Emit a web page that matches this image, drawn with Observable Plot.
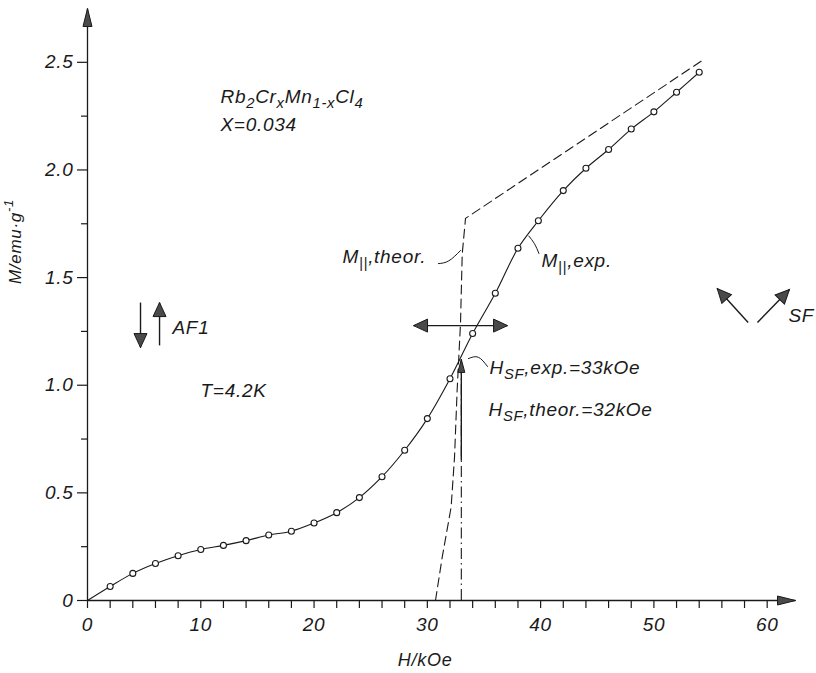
<!DOCTYPE html>
<html>
<head>
<meta charset="utf-8">
<script src="https://cdn.jsdelivr.net/npm/d3@7"></script>
<script src="https://cdn.jsdelivr.net/npm/@observablehq/plot@0.6"></script>
<style>
  body { margin: 0; background: #fff; }
  #chart svg { display: block; }
</style>
</head>
<body>
<div id="chart"></div>
<script>
// Measured magnetization M (emu/g) versus applied field H (kOe), T = 4.2 K
const fieldH = [2, 4, 6, 8, 10, 12, 14, 16, 18, 20, 22, 24, 26, 28, 30, 32, 34, 36, 38, 39.8, 42, 44, 46, 48, 50, 52, 54];
const magM = [0.065, 0.126, 0.172, 0.208, 0.237, 0.256, 0.278, 0.304, 0.322, 0.36, 0.408, 0.478, 0.575, 0.698, 0.845, 1.03, 1.24, 1.427, 1.636, 1.764, 1.904, 2.008, 2.095, 2.19, 2.27, 2.361, 2.454];

// Theoretical parallel magnetization
const theorH = [30.72, 31.31, 32.1, 32.4, 32.63, 32.93, 33.08, 33.37, 54.26];
const theorM = [0, 0.2, 0.434, 0.666, 0.976, 1.29, 1.61, 1.775, 2.508];

// Spin-flop fields (kOe)
const hsfExp = 33;
const hsfExpM = 1.12;

// Axis ticks
const xTicks = d3.range(0, 61, 2);
const yMajor = [0, 0.5, 1.0, 1.5, 2.0, 2.5];
const yMinor = [0.25, 0.75, 1.25, 1.75, 2.25];
const xDomain = [0, 62.5];
const yDomain = [0, 2.75];

// Annotation texts (x, y in data units; "_" subscript, "^" superscript)
const labels = [
  {text: "Rb_2Cr_xMn_{1-x}Cl_4", x: 11.74, y: 2.341},
  {text: "X=0.034", x: 11.74, y: 2.211},
  {text: "T=4.2K", x: 9.98, y: 0.975},
  {text: "AF1", x: 7.5, y: 1.268},
  {text: "SF", x: 61.88, y: 1.324},
  {text: "M_{||},theor.", x: 22.51, y: 1.598},
  {text: "M_{||},exp.", x: 40.08, y: 1.579},
  {text: "H_{SF},exp.=33kOe", x: 35.49, y: 1.082},
  {text: "H_{SF},theor.=32kOe", x: 35.4, y: 0.887}
];

// Leader strokes tying labels to curves
const leaders = [
  {id: "theor", x: 30.98, y: 1.565}, {id: "theor", x: 31.9, y: 1.578}, {id: "theor", x: 32.93, y: 1.626},
  {id: "exp", x: 38.96, y: 1.693}, {id: "exp", x: 39.45, y: 1.658}, {id: "exp", x: 39.85, y: 1.612},
  {id: "hsf", x: 33.63, y: 1.124}, {id: "hsf", x: 34.5, y: 1.13}, {id: "hsf", x: 35.31, y: 1.087}
];

// Arrows: from (x1,y1) to tip (x2,y2)
const bigArrows = [
  {x1: 4.68, y1: 1.384, x2: 4.68, y2: 1.175},    // AF1 down spin
  {x1: 6.36, y1: 1.185, x2: 6.36, y2: 1.384},    // AF1 up spin
  {x1: 58.32, y1: 1.291, x2: 55.59, y2: 1.449},  // SF left
  {x1: 59.14, y1: 1.291, x2: 61.97, y2: 1.445},  // SF right
  {x1: 32.9, y1: 1.277, x2: 28.78, y2: 1.277},   // double arrow, left
  {x1: 32.9, y1: 1.277, x2: 37.08, y2: 1.277}    // double arrow, right
];
const axisArrows = [
  {x1: 0, y1: 0, x2: 0, y2: yDomain[1]},
  {x1: 0, y1: 0, x2: xDomain[1], y2: 0}
];
const hsfArrow = [{x1: hsfExp, y1: 0.65, x2: hsfExp, y2: hsfExpM}];

const W = 816, H = 673;
const mL = 87, mR = 21, mT = 8, mB = 73;

const sx = Plot.scale({x: {domain: xDomain, range: [mL, W - mR]}});
const sy = Plot.scale({y: {domain: yDomain, range: [H - mB, mT]}});
function withAngle(arr) {
  return arr.map(d => {
    const dx = sx.apply(d.x2) - sx.apply(d.x1);
    const dy = sy.apply(d.y2) - sy.apply(d.y1);
    return {...d, angle: Math.atan2(dx, -dy) * 180 / Math.PI};
  });
}

// Filled arrowhead with its tip at the origin, pointing up
function head(len, wid) {
  return {
    draw(ctx) {
      ctx.moveTo(0, 0);
      ctx.lineTo(-wid / 2, len);
      ctx.lineTo(wid / 2, len);
      ctx.closePath();
    }
  };
}

const measured = fieldH.map((h, i) => ({h, m: magM[i]}));
const fitted = [{h: 0, m: 0}, ...measured];
const theor = theorH.map((h, i) => ({h, m: theorM[i]}));

const ink = "#1a1a1a";
const headFill = "#4a4a4a";

const chart = Plot.plot({
  width: W, height: H,
  marginLeft: mL, marginRight: mR, marginTop: mT, marginBottom: mB,
  x: {domain: xDomain},
  y: {domain: yDomain},
  style: {fontFamily: "'Liberation Sans', Arial, sans-serif", fontStyle: "italic", fontSize: "18px", letterSpacing: "0.7px", background: "#fff", overflow: "visible", color: ink},
  marks: [
    // axis lines with arrowheads
    Plot.link(axisArrows, {x1: "x1", y1: "y1", x2: "x2", y2: "y2", stroke: ink, strokeWidth: 1.3}),
    Plot.dot(withAngle(axisArrows), {x: "x2", y: "y2", rotate: "angle", symbol: head(18, 9), fill: headFill, stroke: ink, strokeWidth: 1}),
    Plot.axisX({ticks: xTicks, tickSize: 8, tickPadding: 9, tickFormat: d => d % 10 === 0 ? String(d) : "", fontSize: 19, strokeWidth: 1.2, label: null}),
    Plot.axisY({ticks: yMajor, tickSize: 10, tickPadding: 4, tickFormat: d => d === 0 ? "0" : d.toFixed(1), fontSize: 19, strokeWidth: 1.2, label: null}),
    Plot.axisY({ticks: yMinor, tickSize: 6, tickFormat: () => "", strokeWidth: 1.2, label: null}),
    Plot.text(["H/kOe"], {x: () => 29.8, frameAnchor: "bottom", textAnchor: "middle", lineAnchor: "middle", dy: 60, fontSize: 18}),
    Plot.text(["M/emu·g^{-1}"], {y: () => 1.668, frameAnchor: "left", textAnchor: "middle", lineAnchor: "middle", dx: -72, rotate: -90, fontSize: 17}),

    // theoretical curve and spin-flop field marker
    Plot.line(theor, {x: "h", y: "m", stroke: ink, strokeWidth: 1.1, strokeDasharray: "9,5"}),
    Plot.ruleX([hsfExp], {y1: 0, y2: hsfExpM, stroke: ink, strokeWidth: 1.1, strokeDasharray: "11,4,1.5,4"}),
    Plot.link(hsfArrow, {x1: "x1", y1: "y1", x2: "x2", y2: "y2", stroke: ink, strokeWidth: 1.4}),
    Plot.dot(withAngle(hsfArrow), {x: "x2", y: "y2", rotate: "angle", symbol: head(13, 7), fill: headFill, stroke: ink, strokeWidth: 1}),

    // measured data with fitted curve
    Plot.line(fitted, {x: "h", y: "m", curve: "catmull-rom", stroke: ink, strokeWidth: 1.1}),
    Plot.dot(measured, {x: "h", y: "m", r: 3, fill: "#fff", stroke: ink, strokeWidth: 1.1}),

    // spin arrows and transition arrow
    Plot.link(bigArrows, {x1: "x1", y1: "y1", x2: "x2", y2: "y2", stroke: ink, strokeWidth: 1.4}),
    Plot.dot(withAngle(bigArrows), {x: "x2", y: "y2", rotate: "angle", symbol: head(14, 13), fill: headFill, stroke: ink, strokeWidth: 1}),

    // labels and leaders
    Plot.line(leaders, {x: "x", y: "y", z: "id", curve: "natural", stroke: ink, strokeWidth: 1}),
    Plot.text(labels, {x: "x", y: "y", text: "text", textAnchor: "start", fontSize: 19})
  ]
});

document.getElementById("chart").appendChild(chart);

// Render "_" / "^" markup as subscript / superscript tspans
const NS = "http://www.w3.org/2000/svg";
chart.querySelectorAll("text").forEach(t => {
  const src = t.textContent;
  if (!/[_^]/.test(src) || t.children.length) return;
  const fs = parseFloat(getComputedStyle(t).fontSize) || 18;
  t.textContent = "";
  const re = /([_^])(?:\{([^}]*)\}|(.))/g;
  let last = 0, offset = 0, m;
  const add = (str, dy, size) => {
    const ts = document.createElementNS(NS, "tspan");
    ts.textContent = str;
    if (dy) ts.setAttribute("dy", dy);
    if (size) ts.setAttribute("font-size", size);
    t.appendChild(ts);
  };
  while ((m = re.exec(src))) {
    if (m.index > last) { add(src.slice(last, m.index), -offset); offset = 0; }
    const s = m[2] !== undefined ? m[2] : m[3];
    const target = m[1] === "_" ? 0.3 * fs : -0.45 * fs;
    add(s, target - offset, fs * 0.78);
    offset = target;
    last = re.lastIndex;
  }
  if (last < src.length) add(src.slice(last), -offset);
});
</script>
</body>
</html>
